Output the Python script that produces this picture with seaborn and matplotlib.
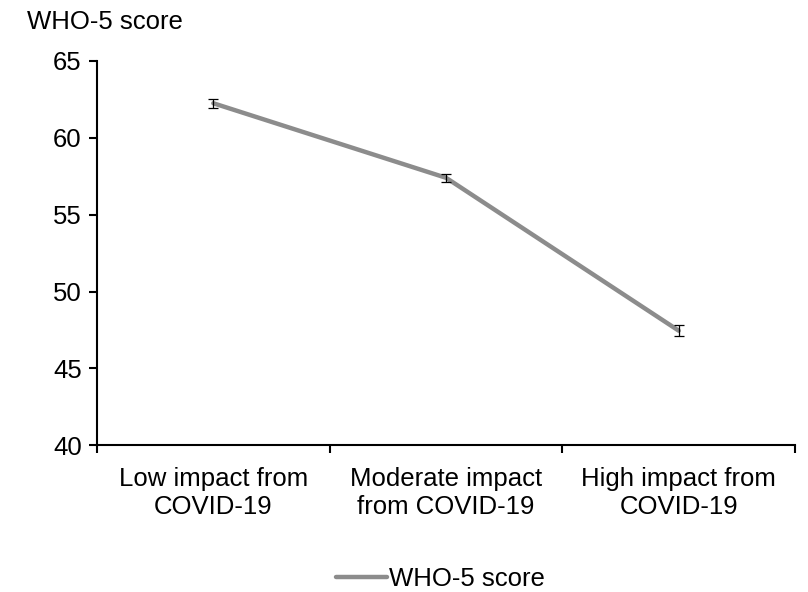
import matplotlib
matplotlib.use('Agg')
import matplotlib.pyplot as plt
import seaborn as sns
import pandas as pd

# Data
categories = ['Low impact from\nCOVID-19', 'Moderate impact\nfrom COVID-19', 'High impact from\nCOVID-19']
scores = [62.25, 57.4, 47.45]
errors = [0.3, 0.25, 0.35]

sns.set_style('ticks')
plt.rcParams['font.family'] = ['Liberation Sans', 'DejaVu Sans']
plt.rcParams['text.color'] = 'black'
plt.rcParams['xtick.color'] = 'black'
plt.rcParams['ytick.color'] = 'black'
plt.rcParams['xtick.labelcolor'] = 'black'
plt.rcParams['ytick.labelcolor'] = 'black'

fs = 18.5

df = pd.DataFrame({'impact': categories, 'score': scores})

fig = plt.figure(figsize=(8.08, 5.92), dpi=100)
ax = fig.add_axes([0.12, 0.248, 0.864, 0.649])

sns.lineplot(data=df, x='impact', y='score', color='#8c8c8c', linewidth=3.2,
             sort=False, ax=ax, label='WHO-5 score', legend=False)
ax.errorbar(range(len(categories)), scores, yerr=errors, fmt='none',
            ecolor='black', elinewidth=0.9, capsize=3.5, capthick=0.9, zorder=3)

ax.set_ylim(40, 65)
ax.set_yticks([40, 45, 50, 55, 60, 65])
ax.set_xlim(-0.5, 2.5)
ax.set_xticks([-0.5, 0.5, 1.5, 2.5])
ax.set_xticklabels([])
ax.set_xticks([0, 1, 2], minor=True)
ax.set_xticklabels(categories, minor=True)
ax.tick_params(axis='x', which='minor', length=0, pad=16, labelsize=fs)
ax.tick_params(axis='x', which='major', length=6, width=1.5, color='black')
ax.tick_params(axis='y', length=6, width=1.5, color='black', labelsize=fs, pad=5)
ax.set_xlabel('')
ax.set_ylabel('')
for s in ['left', 'bottom']:
    ax.spines[s].set_linewidth(1.5)
    ax.spines[s].set_color('black')
sns.despine(ax=ax)

fig.text(0.033, 0.962, 'WHO-5 score', fontsize=fs, va='center', ha='left')

handles, labels = ax.get_legend_handles_labels()
fig.legend(handles, labels, loc='center', bbox_to_anchor=(0.545, 0.022), frameon=False,
           fontsize=fs, handlelength=2.0, handletextpad=0.05)

plt.savefig('out.png', dpi=100)
